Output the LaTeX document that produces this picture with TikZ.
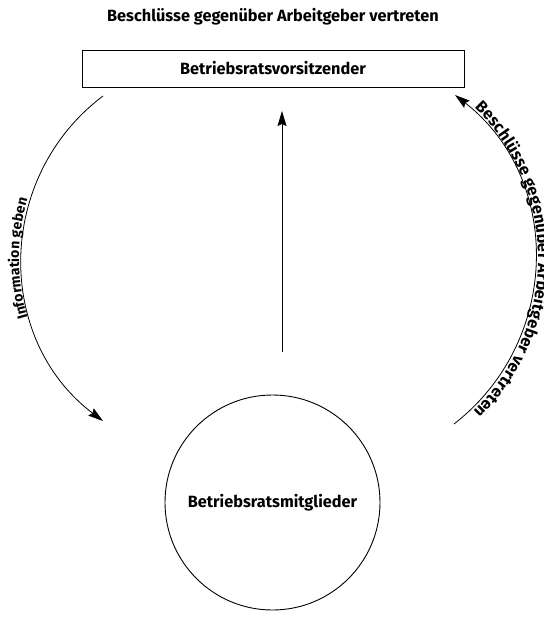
\documentclass[tikz,border=0pt]{standalone}
\usepackage{fontspec}
\setmainfont{Fira Sans}
\usetikzlibrary{arrows.meta,decorations.text}
\newcommand{\bigfont}{\bfseries\fontsize{16.3}{18}\selectfont}
\newcommand{\smallfont}{\bfseries\fontsize{14}{16}\selectfont}
\tikzset{
  conn/.style={line width=0.8pt,-{Stealth[length=15pt,width=9pt,inset=2pt]}},
  lbl/.style={font=\bigfont, inner sep=0pt},
}
\begin{document}
\begin{tikzpicture}[x=1pt,y=-1pt]
\useasboundingbox (0,0) rectangle (544,625);
\clip (0,0) rectangle (544,625);
\node[lbl] (title) at (273,17) {Beschlüsse gegenüber Arbeitgeber vertreten};
\node[draw, line width=0.9pt, minimum width=382pt, minimum height=37pt, font=\bigfont] (vors) at (273,68.5) {Betriebsratsvorsitzender};
\node[draw, circle, line width=0.9pt, minimum size=215pt, font=\bigfont] (mitg) at (272.5,502.5) {Betriebsratsmitglieder};
\coordinate (ls) at (103,96);
\coordinate (le) at (103,421);
\coordinate (rs) at (454,424);
\coordinate (re) at (455,95);
\coordinate (ms) at (282,352);
\coordinate (me) at (282,111);
\draw[conn] (ms) -- (me);
\draw[conn] (ls) .. controls (-5,177.5) and (-5,339.5) .. (le);
\draw[conn] (rs) .. controls (562,340) and (562,178) .. (re);
\path[decorate, decoration={text along path, text align=center, raise=3pt,
  text={|\smallfont|Information geben}}]
  (le) .. controls (-5,339.5) and (-5,177.5) .. (ls);
\path[decorate, decoration={text along path, text align=center, raise=3pt,
  text={|\bigfont|Beschlüsse gegenüber Arbeitgeber vertreten}}]
  (re) .. controls (562,178) and (562,340) .. (rs);
\end{tikzpicture}
\end{document}
